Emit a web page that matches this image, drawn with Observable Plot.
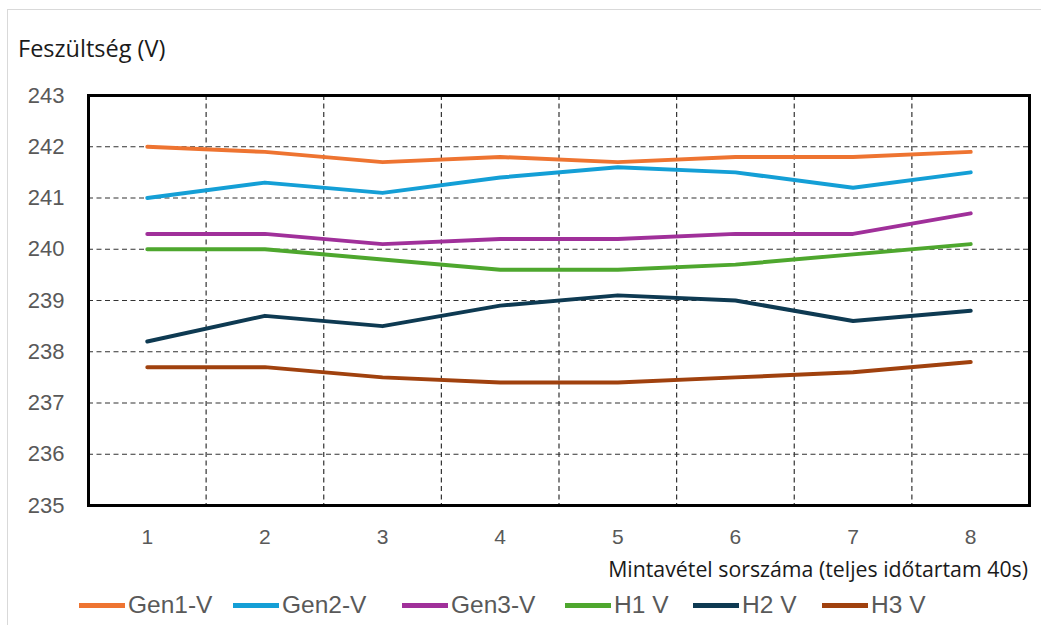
<!DOCTYPE html>
<html>
<head>
<meta charset="utf-8">
<script src="https://cdn.jsdelivr.net/npm/d3@7"></script>
<script src="https://cdn.jsdelivr.net/npm/@observablehq/plot@0.6"></script>
<style>
  html, body { margin: 0; padding: 0; background: #fff; }
  body { width: 1041px; height: 625px; position: relative; overflow: hidden; font-family: "Liberation Sans", Arial, sans-serif; }
  #box { position: absolute; left: 7px; top: 9px; width: 1100px; height: 700px; border: 1px solid #d9d9d9; box-sizing: border-box; }
  #chart { position: absolute; left: 0; top: 0; }
  #title { position: absolute; left: 18px; top: 32px; font-family: "Open Sans", sans-serif; font-size: 23.5px; color: #1a1a1a; white-space: nowrap; }
  #xlabel { position: absolute; right: 13px; top: 554px; font-family: "Open Sans", sans-serif; font-size: 21.3px; color: #1a1a1a; white-space: nowrap; }
  #legend { position: absolute; left: 0; top: 589px; width: 1041px; height: 32px; font-size: 24.5px; color: #595959; white-space: nowrap; }
  .item { position: absolute; top: 0; display: flex; align-items: center; height: 32px; }
  .sw { width: 46px; height: 5px; margin-right: 3px; }
</style>
</head>
<body>
<div id="box"></div>
<div id="chart"></div>
<div id="title">Feszültség (V)</div>
<div id="xlabel">Mintavétel sorszáma (teljes időtartam 40s)</div>
<div id="legend"></div>
<script>
// Sample numbers (8 readings over 40 s)
const samples = [1, 2, 3, 4, 5, 6, 7, 8];

// Measured voltages per source (V)
const gen1 = [242.0, 241.9, 241.7, 241.8, 241.7, 241.8, 241.8, 241.9];
const gen2 = [241.0, 241.3, 241.1, 241.4, 241.6, 241.5, 241.2, 241.5];
const gen3 = [240.3, 240.3, 240.1, 240.2, 240.2, 240.3, 240.3, 240.7];
const h1   = [240.0, 240.0, 239.8, 239.6, 239.6, 239.7, 239.9, 240.1];
const h2   = [238.2, 238.7, 238.5, 238.9, 239.1, 239.0, 238.6, 238.8];
const h3   = [237.7, 237.7, 237.5, 237.4, 237.4, 237.5, 237.6, 237.8];

const seriesNames = ["Gen1-V", "Gen2-V", "Gen3-V", "H1 V", "H2 V", "H3 V"];
const seriesValues = [gen1, gen2, gen3, h1, h2, h3];
const seriesColors = ["#ee7431", "#149fd6", "#a0309a", "#4ea72e", "#0e3a52", "#a0410e"];

// Axis ticks
const yTicks = [235, 236, 237, 238, 239, 240, 241, 242, 243];
const yGrid = [236, 237, 238, 239, 240, 241, 242];
// Category boundaries between samples
const xGrid = [1.5, 2.5, 3.5, 4.5, 5.5, 6.5, 7.5];

const rows = seriesNames.flatMap((name, i) =>
  samples.map((s, j) => ({series: name, sample: s, value: seriesValues[i][j]}))
);

const dash = {stroke: "#333", strokeWidth: 1.2, strokeDasharray: "5,3.5"};

const chart = Plot.plot({
  width: 1041,
  height: 590,
  marginLeft: 88,
  marginRight: 12,
  marginTop: 95,
  marginBottom: 85,
  style: {background: "transparent", fontFamily: "Liberation Sans, Arial, sans-serif"},
  x: {type: "linear", domain: [0.5, 8.5]},
  y: {domain: [235, 243]},
  color: {domain: seriesNames, range: seriesColors},
  marks: [
    Plot.ruleY(yGrid, dash),
    Plot.ruleX(xGrid, dash),
    Plot.axisY({ticks: yTicks, tickSize: 0, tickPadding: 24, fontSize: 22, fill: "#595959", label: null, tickFormat: d => String(d)}),
    Plot.axisX({ticks: samples, tickSize: 0, tickPadding: 24, fontSize: 21, fill: "#595959", label: null, tickFormat: d => String(d)}),
    Plot.lineY(rows, {x: "sample", y: "value", z: "series", stroke: "series", strokeWidth: 4, curve: "linear"}),
    Plot.frame({stroke: "#000", strokeWidth: 3})
  ]
});
document.getElementById("chart").appendChild(chart);

// Legend below the chart; each entry has its own slot along the row
const legendLeft = [79, 233, 402, 565, 693, 822];
const legend = document.getElementById("legend");
seriesNames.forEach((name, i) => {
  const item = document.createElement("div");
  item.className = "item";
  item.style.left = legendLeft[i] + "px";
  const sw = document.createElement("span");
  sw.className = "sw";
  sw.style.background = seriesColors[i];
  const label = document.createElement("span");
  label.textContent = name;
  item.appendChild(sw);
  item.appendChild(label);
  legend.appendChild(item);
});
</script>
</body>
</html>
